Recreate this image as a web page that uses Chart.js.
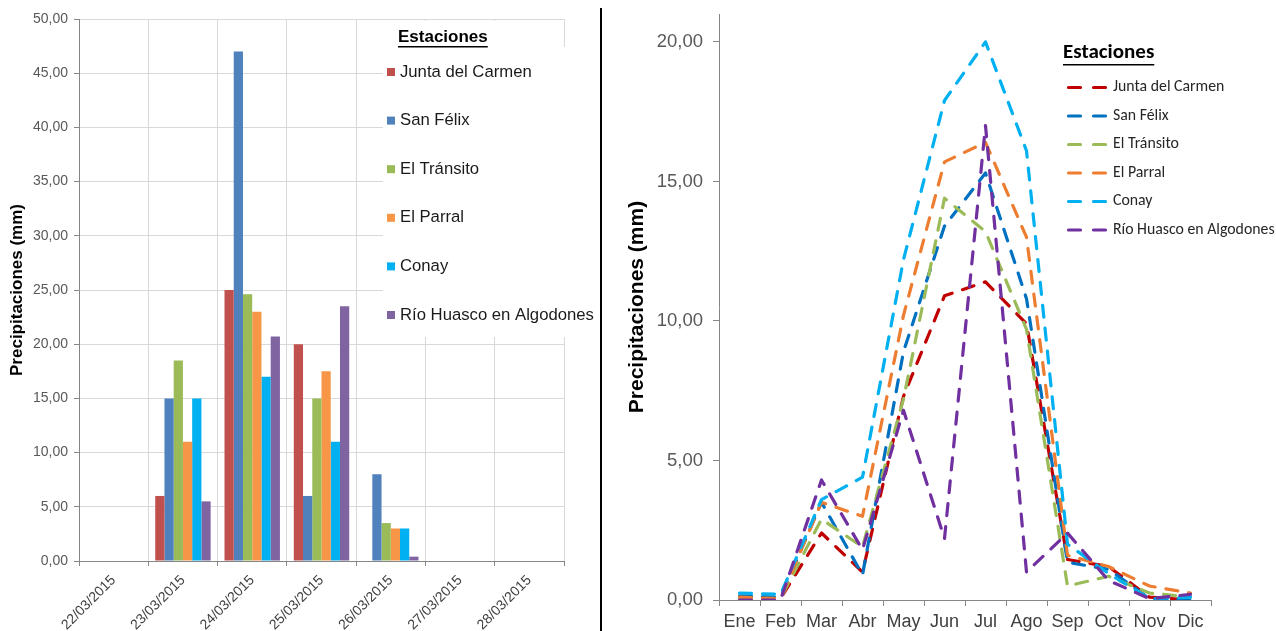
<!DOCTYPE html>
<html>
<head>
<meta charset="utf-8">
<script src="https://cdn.jsdelivr.net/npm/chart.js@4.4.1/dist/chart.umd.min.js"></script>
<style>
  html, body { margin: 0; padding: 0; background: #fff; }
  body { width: 1276px; height: 631px; position: relative; overflow: hidden; }
  #dailyBox { position: absolute; left: 0; top: 0; width: 600px; height: 631px; }
  #monthlyBox { position: absolute; left: 603px; top: 0; width: 673px; height: 631px; }
  #divider { position: absolute; left: 600px; top: 8px; width: 2px; height: 623px; background: #000; }
</style>
</head>
<body>
<div id="dailyBox"><canvas id="daily" width="600" height="631"></canvas></div>
<div id="divider"></div>
<div id="monthlyBox"><canvas id="monthly" width="673" height="631"></canvas></div>
<script>
// Stations (series names)
const stations = ['Junta del Carmen', 'San Félix', 'El Tránsito', 'El Parral', 'Conay', 'Río Huasco en Algodones'];

// Daily rainfall, March 2015 event (mm)
const days = ['22/03/2015', '23/03/2015', '24/03/2015', '25/03/2015', '26/03/2015', '27/03/2015', '28/03/2015'];
const dailyJunta    = [0, 6.0, 25.0, 20.0, 0.0, 0, 0];
const dailySanFelix = [0, 15.0, 47.0, 6.0, 8.0, 0, 0];
const dailyTransito = [0, 18.5, 24.6, 15.0, 3.5, 0, 0];
const dailyParral   = [0, 11.0, 23.0, 17.5, 3.0, 0, 0];
const dailyConay    = [0, 15.0, 17.0, 11.0, 3.0, 0, 0];
const dailyRio      = [0, 5.5, 20.7, 23.5, 0.4, 0, 0];
const dailyTicks    = [0, 5, 10, 15, 20, 25, 30, 35, 40, 45, 50];

// Mean monthly rainfall (mm)
const months = ['Ene', 'Feb', 'Mar', 'Abr', 'May', 'Jun', 'Jul', 'Ago', 'Sep', 'Oct', 'Nov', 'Dic'];
const monthlyJunta    = [0.05, 0.05, 2.4, 1.0, 7.3, 10.9, 11.4, 9.9, 1.45, 1.2, 0.1, 0.0];
const monthlySanFelix = [0.15, 0.1, 3.5, 0.9, 8.9, 13.4, 15.3, 10.8, 1.35, 1.1, 0.05, 0.0];
const monthlyTransito = [0.05, 0.05, 2.9, 1.9, 7.2, 14.4, 13.2, 9.7, 0.5, 0.85, 0.25, 0.1];
const monthlyParral   = [0.1, 0.05, 3.5, 3.0, 10.2, 15.7, 16.4, 13.0, 1.6, 1.2, 0.5, 0.25];
const monthlyConay    = [0.25, 0.2, 3.6, 4.4, 12.2, 17.9, 20.0, 16.1, 2.0, 0.95, 0.05, 0.1];
const monthlyRio      = [0.0, 0.0, 4.3, 1.8, 6.8, 2.2, 17.0, 1.0, 2.4, 0.7, 0.05, 0.2];
const monthlyTicks    = [0, 5, 10, 15, 20];

const barColors  = ['#C0504D', '#4F81BD', '#9BBB59', '#F79646', '#00B0F0', '#8064A2'];
const lineColors = ['#C00000', '#0070C0', '#9BBB59', '#ED7D31', '#00B0F0', '#7030A0'];

const SANS = "'Liberation Sans', Arial, sans-serif";
const KEYFONT = "Carlito, Lato, 'Liberation Sans', sans-serif";

const fmt = v => Number(v).toFixed(2).replace('.', ',');
const fixedTicks = list => scale => { scale.ticks = list.map(v => ({ value: v })); };

// Legend drawn on the canvas: title underlined, then one row per dataset
const stationKey = {
  id: 'stationKey',
  afterDraw(chart, args, o) {
    const ctx = chart.ctx;
    ctx.save();
    ctx.fillStyle = '#fff';
    (o.cover || []).forEach(r => ctx.fillRect(r[0], r[1], r[2], r[3]));

    ctx.fillStyle = '#000';
    ctx.font = o.titleFont;
    ctx.textBaseline = 'middle';
    ctx.textAlign = 'left';
    ctx.fillText(o.title, o.titleX, o.titleY);
    const tw = ctx.measureText(o.title).width;
    ctx.fillRect(o.titleX, o.titleY + o.underline, tw, 1.5);

    ctx.font = o.itemFont;
    chart.data.datasets.forEach((ds, i) => {
      const y = o.itemY + i * o.step;
      if (o.kind === 'box') {
        ctx.fillStyle = ds.backgroundColor;
        ctx.fillRect(o.markX, y - o.markSize / 2, o.markSize, o.markSize);
      } else {
        ctx.strokeStyle = ds.borderColor;
        ctx.lineWidth = 3.2;
        ctx.lineCap = 'round';
        ctx.setLineDash([]);
        ctx.beginPath();
        ctx.moveTo(o.markX + 1.5, y); ctx.lineTo(o.markX + 13.5, y);
        ctx.moveTo(o.markX + 26.5, y); ctx.lineTo(o.markX + 38.5, y);
        ctx.stroke();
      }
      ctx.fillStyle = o.textColor;
      ctx.fillText(ds.label, o.textX, y);
    });
    ctx.restore();
  }
};

// Vertical axes: tick labels sit beside the axis, so no extra top/bottom room is needed
const noVerticalPadding = s => { s.paddingTop = 0; s.paddingBottom = 0; };

const dailySeries = [dailyJunta, dailySanFelix, dailyTransito, dailyParral, dailyConay, dailyRio];
new Chart(document.getElementById('daily'), {
  type: 'bar',
  data: {
    labels: days,
    datasets: dailySeries.map((vals, i) => ({
      label: stations[i],
      data: vals,
      backgroundColor: barColors[i],
      borderWidth: 0,
      categoryPercentage: 0.8,
      barPercentage: 1.0
    }))
  },
  options: {
    responsive: false,
    animation: false,
    layout: { padding: { top: 19, right: 36, left: 0, bottom: 0 } },
    plugins: {
      legend: { display: false },
      tooltip: { enabled: false },
      stationKey: {
        kind: 'box',
        cover: [[383, 21, 180, 27], [383, 47, 217, 290]],
        title: 'Estaciones', titleX: 398, titleY: 37, underline: 9,
        titleFont: "bold 17px " + SANS,
        itemFont: "16.7px " + SANS, textColor: '#1a1a1a',
        itemY: 72, step: 48.6, markX: 387, markSize: 8, textX: 400
      }
    },
    scales: {
      x: {
        offset: true,
        grid: { color: '#D9D9D9', tickColor: '#868686', tickLength: 5, offset: true, lineWidth: 1 },
        border: { color: '#868686' },
        ticks: { minRotation: 45, maxRotation: 45, autoSkip: false, padding: 6,
                 font: { family: SANS, size: 14 }, color: '#404040' },
        afterFit(s) { s.height = 70; }
      },
      y: {
        min: 0, max: 50,
        afterBuildTicks: fixedTicks(dailyTicks),
        grid: { color: '#D9D9D9', tickColor: '#868686', tickLength: 5 },
        border: { color: '#868686' },
        ticks: { callback: fmt, padding: 6, font: { family: SANS, size: 14 }, color: '#595959' },
        title: { display: true, text: 'Precipitaciones (mm)', color: '#000',
                 font: { family: SANS, size: 17, weight: 'bold' }, padding: { top: 7, bottom: 0 } },
        afterFit(s) { s.width = 79; noVerticalPadding(s); }
      }
    }
  },
  plugins: [stationKey]
});

const monthlySeries = [monthlyJunta, monthlySanFelix, monthlyTransito, monthlyParral, monthlyConay, monthlyRio];
new Chart(document.getElementById('monthly'), {
  type: 'line',
  data: {
    labels: months,
    datasets: monthlySeries.map((vals, i) => ({
      label: stations[i],
      data: vals,
      borderColor: lineColors[i],
      backgroundColor: lineColors[i],
      borderWidth: 3.2,
      borderDash: [12, 11],
      borderCapStyle: 'round',
      borderJoinStyle: 'round',
      pointRadius: 0,
      tension: 0,
      fill: false,
      order: stations.length - i
    }))
  },
  options: {
    responsive: false,
    animation: false,
    layout: { padding: { top: 14, right: 65, left: 0, bottom: 0 } },
    plugins: {
      legend: { display: false },
      tooltip: { enabled: false },
      stationKey: {
        kind: 'line',
        title: 'Estaciones', titleX: 460, titleY: 53, underline: 11,
        titleFont: "bold 21px " + KEYFONT,
        itemFont: "15.8px " + KEYFONT, textColor: '#262626',
        itemY: 87.5, step: 28.5, markX: 464, textX: 510
      }
    },
    scales: {
      x: {
        offset: true,
        grid: { display: true, drawOnChartArea: false, offset: true, tickColor: '#868686', tickLength: 6 },
        border: { color: '#868686' },
        ticks: { autoSkip: false, maxRotation: 0, padding: 5,
                 font: { family: SANS, size: 18 }, color: '#404040' },
        afterFit(s) { s.height = 31; }
      },
      y: {
        min: 0, max: 21,
        afterBuildTicks: fixedTicks(monthlyTicks),
        grid: { display: true, drawOnChartArea: false, tickColor: '#868686', tickLength: 6 },
        border: { color: '#868686' },
        ticks: { callback: fmt, padding: 10, font: { family: SANS, size: 18.5 }, color: '#595959' },
        title: { display: true, text: 'Precipitaciones (mm)', color: '#000',
                 font: { family: SANS, size: 21, weight: 'bold' }, padding: { top: 22, bottom: 0 } },
        afterFit(s) { s.width = 116; noVerticalPadding(s); }
      }
    }
  },
  plugins: [stationKey]
});
</script>
</body>
</html>
